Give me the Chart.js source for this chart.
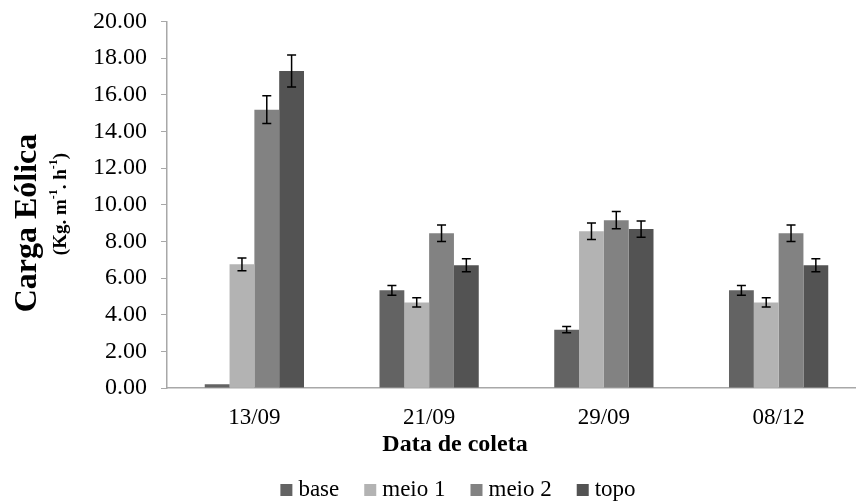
<!DOCTYPE html>
<html>
<head>
<meta charset="utf-8">
<script src="https://cdn.jsdelivr.net/npm/chart.js@4/dist/chart.umd.min.js"></script>
<style>
  html, body { margin: 0; padding: 0; background: #fff; overflow: hidden; }
  #wrap { width: 866px; height: 502px; position: relative; }
</style>
</head>
<body>
<div id="wrap"><canvas id="c"></canvas></div>
<script>
// Categories and series values (Kg m-1 h-1)
const categories = ['13/09', '21/09', '29/09', '08/12'];
const seriesNames = ['base', 'meio 1', 'meio 2', 'topo'];
const base  = [0.20, 5.33, 3.18, 5.33];
const meio1 = [6.75, 4.67, 8.56, 4.67];
const meio2 = [15.19, 8.45, 9.16, 8.45];
const topo  = [17.30, 6.70, 8.67, 6.70];
// Standard error for each bar
const baseErr  = [0, 0.27, 0.17, 0.27];
const meio1Err = [0.35, 0.25, 0.45, 0.25];
const meio2Err = [0.76, 0.45, 0.47, 0.45];
const topoErr  = [0.87, 0.35, 0.45, 0.35];
// Y axis ticks
const yTicks = [0, 2, 4, 6, 8, 10, 12, 14, 16, 18, 20];

const colors = ['#636363', '#b3b3b3', '#828282', '#535353'];
const values = [base, meio1, meio2, topo];
const errors = [baseErr, meio1Err, meio2Err, topoErr];
const SERIF = '"Liberation Serif", "Times New Roman", serif';
const AXIS = '#a8a8a8';

const errorBars = {
  id: 'errorBars',
  afterDatasetsDraw(chart) {
    const ctx = chart.ctx;
    const y = chart.scales.y;
    ctx.save();
    ctx.strokeStyle = '#000';
    ctx.lineWidth = 1.5;
    chart.data.datasets.forEach((ds, i) => {
      const meta = chart.getDatasetMeta(i);
      meta.data.forEach((bar, j) => {
        const e = ds.errors[j];
        if (!e) return;
        const v = ds.data[j];
        const yt = y.getPixelForValue(v + e);
        const yb = y.getPixelForValue(v - e);
        const x = bar.x;
        ctx.beginPath();
        ctx.moveTo(x, yt); ctx.lineTo(x, yb);
        ctx.moveTo(x - 4.5, yt); ctx.lineTo(x + 4.5, yt);
        ctx.moveTo(x - 4.5, yb); ctx.lineTo(x + 4.5, yb);
        ctx.stroke();
      });
    });
    ctx.restore();
  }
};

const titlesAndLegend = {
  id: 'titlesAndLegend',
  afterDraw(chart) {
    const ctx = chart.ctx;
    ctx.save();
    ctx.fillStyle = '#000';
    // Y title, rotated
    ctx.save();
    ctx.translate(28, 223);
    ctx.rotate(-Math.PI / 2);
    ctx.font = 'bold 32px ' + SERIF;
    ctx.textAlign = 'center';
    ctx.textBaseline = 'middle';
    ctx.fillText('Carga Eólica', 0, 0);
    ctx.restore();

    // Units line with superscripts
    ctx.save();
    ctx.translate(61, 204);
    ctx.rotate(-Math.PI / 2);
    const big = 'bold 19px ' + SERIF;
    const small = 'bold 12px ' + SERIF;
    const parts = [
      ['(Kg. m', big, 0], ['-1', small, -7], ['. h', big, 0], ['-1', small, -7], [')', big, 0]
    ];
    let total = 0;
    parts.forEach(p => { ctx.font = p[1]; total += ctx.measureText(p[0]).width; });
    let x = -total / 2;
    ctx.textBaseline = 'middle';
    ctx.textAlign = 'left';
    parts.forEach(p => {
      ctx.font = p[1];
      ctx.fillText(p[0], x, p[2]);
      x += ctx.measureText(p[0]).width;
    });
    ctx.restore();

    // X title
    ctx.font = 'bold 24px ' + SERIF;
    ctx.textAlign = 'center';
    ctx.textBaseline = 'middle';
    ctx.fillText('Data de coleta', 455, 445);

    // Legend
    ctx.font = '23px ' + SERIF;
    const box = 12, gapBox = 6, gapItem = 25;
    let w = 0;
    seriesNames.forEach((n, i) => {
      w += box + gapBox + ctx.measureText(n).width;
      if (i < seriesNames.length - 1) w += gapItem;
    });
    let lx = 458 - w / 2;
    const ly = 490;
    ctx.textAlign = 'left';
    seriesNames.forEach((n, i) => {
      ctx.fillStyle = colors[i];
      ctx.fillRect(lx, ly - box / 2, box, box);
      lx += box + gapBox;
      ctx.fillStyle = '#000';
      ctx.fillText(n, lx, ly);
      lx += ctx.measureText(n).width + gapItem;
    });
    ctx.restore();
  }
};

new Chart(document.getElementById('c'), {
  type: 'bar',
  data: {
    labels: categories,
    datasets: seriesNames.map((n, i) => ({
      label: n,
      data: values[i],
      errors: errors[i],
      backgroundColor: colors[i],
      borderWidth: 0,
      categoryPercentage: 0.568,
      barPercentage: 1.0
    }))
  },
  options: {
    responsive: true,
    maintainAspectRatio: false,
    animation: false,
    events: [],
    layout: { padding: { top: 21.5, right: 0, bottom: 0, left: 0 } },
    plugins: { legend: { display: false }, tooltip: { enabled: false } },
    scales: {
      x: {
        grid: { display: true, drawOnChartArea: false, drawTicks: false },
        border: { color: AXIS, width: 1.5 },
        ticks: { color: '#000', font: { family: SERIF, size: 23 }, padding: 16, maxRotation: 0 },
        afterFit(s) { s.height = 114; s.paddingLeft = 0; s.paddingRight = 0; }
      },
      y: {
        min: 0,
        max: 20,
        afterBuildTicks(s) { s.ticks = yTicks.map(v => ({ value: v })); },
        grid: { drawOnChartArea: false, drawTicks: true, tickLength: 6, color: AXIS },
        border: { color: AXIS, width: 1.5 },
        ticks: {
          color: '#000',
          font: { family: SERIF, size: 24 },
          padding: 14,
          callback: v => Number(v).toFixed(2)
        },
        afterFit(s) { s.width = 167; s.paddingTop = 0; s.paddingBottom = 0; }
      }
    }
  },
  plugins: [errorBars, titlesAndLegend]
});
</script>
</body>
</html>
